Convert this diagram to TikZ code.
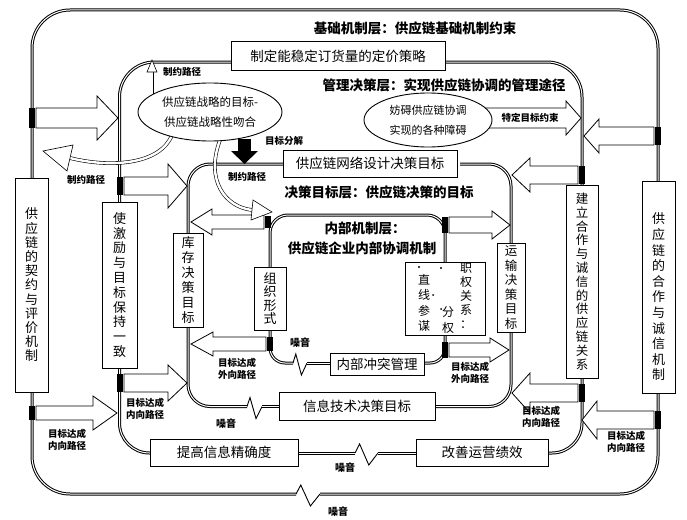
\documentclass[tikz,border=0pt]{standalone}
\usepackage{fontspec}
\setmainfont{Noto Sans CJK SC}
\usetikzlibrary{shapes.geometric}
\newcommand{\blockarr}[6]{\draw[barrow] (#1,{#4-#5}) -- (#2,{#4-#5}) -- (#2,{#4-#6}) -- (#3,#4) -- (#2,{#4+#6}) -- (#2,{#4+#5}) -- (#1,{#4+#5}) -- cycle;}
\newcommand{\junc}[3]{\fill[black] ({#1-3},{#2-#3}) rectangle ({#1+3},{#2+#3});}
\newcommand{\zz}[3]{\draw[zig] (#1,#3) -- ({#1+0.2*(#2-#1)},{#3-9}) -- ({#1+0.6*(#2-#1)},{#3+12}) -- (#2,#3);}
\begin{document}
\begin{tikzpicture}[x=1pt,y=-1pt,
 frame/.style={draw=black, line width=1pt, double=white, double distance=1pt},
 zig/.style={draw=black, line width=0.9pt, line join=miter},
 box/.style={draw=black, line width=1pt, fill=white, inner sep=0pt, align=center},
 ttl/.style={font=\fontsize{13.5}{15}\selectfont\bfseries, inner sep=0pt},
 btxt/.style={font=\fontsize{13.5}{15}\selectfont},
 lab/.style={font=\fontsize{9.5}{11.5}\selectfont\bfseries, align=center, inner sep=0pt},
 noise/.style={font=\fontsize{10}{11}\selectfont\bfseries, inner sep=0pt},
 barrow/.style={draw=black, line width=0.8pt, fill=white, line join=miter},
 hollow/.style={draw=black, line width=0.6pt, double=white, double distance=2.4pt},
]
\useasboundingbox (0,0) rectangle (687,519);
\fill[white] (0,0) rectangle (687,519);

% ---- layer 1 frame
\draw[frame, rounded corners=38] (32,178) -- (32,10) -- (658,10) -- (658,181);
\draw[frame, rounded corners=38] (32,392) -- (32,494) -- (296,494);
\zz{296}{320}{494}
\draw[frame, rounded corners=38] (320,494) -- (658,494) -- (658,393);
% ---- layer 2 frame
\draw[frame, rounded corners=35] (231,62) -- (119.5,62) -- (119.5,202);
\draw[frame, rounded corners=30] (119.5,368) -- (119.5,453) -- (150,453);
\draw[frame] (298,453) -- (355,453);
\zz{355}{378}{453}
\draw[frame] (378,453) -- (416,453);
\draw[frame, rounded corners=30] (548,453) -- (582,453) -- (582,378);
\draw[frame, rounded corners=35] (582,185) -- (582,62) -- (444,62);
% ---- layer 3 frame
\draw[frame, rounded corners=22] (285,164) -- (188,164) -- (188,233);
\draw[frame, rounded corners=22] (188,327) -- (188,406.5) -- (247,406.5);
\zz{247}{262}{406.5}
\draw[frame] (262,406.5) -- (280,406.5);
\draw[frame, rounded corners=22] (434,406.5) -- (511,406.5) -- (511,332);
\draw[frame, rounded corners=22] (511,243) -- (511,164) -- (460,164);
% ---- layer 4 frame
\draw[frame, rounded corners=18] (270,267) -- (270,215) -- (445,215) -- (445,262);
\draw[frame, rounded corners=15] (270,330) -- (270,363) -- (293,363);
\zz{293}{307}{363}
\draw[frame] (307,363) -- (332,363);
\draw[frame, rounded corners=15] (424,363) -- (445,363) -- (445,335);

% ---- block arrows with junctions
\junc{32}{118}{10} \blockarr{36}{97}{118}{118}{10}{22}
\junc{658}{136}{9} \blockarr{654}{599}{584}{136}{9}{17}
\blockarr{480}{566}{581}{118}{10}{17}
\junc{119.5}{186}{9} \blockarr{124}{168}{187}{186}{9}{22}
\junc{582}{175}{9} \blockarr{578}{530}{512}{175}{9}{17}
\junc{268}{222}{6} \blockarr{264}{212}{191}{222}{7}{13}
\junc{445}{225}{8} \blockarr{449}{492}{510}{225}{8}{14}
\junc{270}{344}{7} \blockarr{266}{213}{191}{344}{7}{12}
\junc{445}{350}{8} \blockarr{449}{490}{509}{350}{7}{12}
\junc{119.5}{383}{9} \blockarr{124}{168}{187}{383}{9}{18}
\junc{582}{393}{9} \blockarr{578}{530}{512}{393}{9}{20}
\junc{32}{413}{7} \blockarr{36}{93}{117}{413}{7}{17}
\junc{658}{420}{9} \blockarr{654}{597}{582}{420}{9}{19}

% ---- black decomposition arrow
\fill[black] (238,139) rectangle (251,151);
\fill[black] (231,151) -- (258,151) -- (244.5,164) -- cycle;

% ---- curved hollow arrows
\draw[hollow] (172,135) .. controls (160,165) and (110,168) .. (70,158);
\draw[barrow, line width=0.6pt] (73,145) -- (43,151) -- (67,171) -- cycle;
\draw[hollow] (220,140) .. controls (205,180) and (225,207) .. (252,210);
\draw[barrow, line width=0.6pt] (253,200) -- (272,212) -- (251,220) -- cycle;
\draw[hollow, double distance=1.8pt] (152,97) -- (152,72);
\draw[barrow, line width=0.6pt] (147,72) -- (152,60) -- (157,72) -- cycle;

% ---- boxes
\node[box, minimum width=214pt, minimum height=28pt, btxt] (price) at (338,56) {制定能稳定订货量的定价策略};
\node[box, minimum width=174pt, minimum height=27pt, btxt] (net) at (370,163.5) {供应链网络设计决策目标};
\node[box, minimum width=33pt, minimum height=214pt, font=\fontsize{13}{14.2}\selectfont] (contract) at (31.5,285) {供\\应\\链\\的\\契\\约\\与\\评\\价\\机\\制};
\node[box, minimum width=35pt, minimum height=166pt, font=\fontsize{13}{14.8}\selectfont] (incent) at (119.5,285) {使\\激\\励\\与\\目\\标\\保\\持\\一\\致};
\node[box, minimum width=30pt, minimum height=94pt, font=\fontsize{13}{15}\selectfont] (inv) at (188,280) {库\\存\\决\\策\\目\\标};
\node[box, minimum width=32pt, minimum height=63pt, font=\fontsize{13}{13.5}\selectfont] (org) at (270,298.5) {组\\织\\形\\式};
\node[box, minimum width=28pt, minimum height=89pt, font=\fontsize{12.5}{14.6}\selectfont] (trans) at (511,287.5) {运\\输\\决\\策\\目\\标};
\node[box, minimum width=32pt, minimum height=193pt, font=\fontsize{12.5}{13.8}\selectfont] (rel) at (582,281.5) {建\\立\\合\\作\\与\\诚\\信\\的\\供\\应\\链\\关\\系};
\node[box, minimum width=33pt, minimum height=212pt] (coop) at (658.5,287) {};
\node[font=\fontsize{13}{15.6}\selectfont, align=center, inner sep=0pt] (cooptxt) at (658.5,297) {供\\应\\链\\的\\合\\作\\与\\诚\\信\\机\\制};
\node[box, minimum width=80pt, minimum height=73pt] (auth) at (445,298.5) {};
\node[font=\fontsize{12}{14}\selectfont, align=center, inner sep=0pt] (authr) at (466,296) {职\\权\\关\\系\\：};
\node[font=\fontsize{12}{15.5}\selectfont, align=center, inner sep=0pt] (authl) at (424,303) {直\\线\\参\\谋};
\node[font=\fontsize{12}{15.5}\selectfont, align=center, inner sep=0pt] (authm) at (448,320) {分\\权};
\fill (419,267) circle (1.2pt) (441,268) circle (1.2pt) (433,295) circle (1pt) (441,309) circle (1pt);
\node[box, minimum width=94pt, minimum height=22pt, btxt] (conf) at (377,364) {内部冲突管理};
\node[box, minimum width=156pt, minimum height=28pt, btxt] (it) at (357,406) {信息技术决策目标};
\node[box, minimum width=148pt, minimum height=27pt, btxt] (acc) at (224,452.5) {提高信息精确度};
\node[box, minimum width=132pt, minimum height=27pt, btxt] (perf) at (482,452.5) {改善运营绩效};

% ---- ellipses
\node[draw, ellipse, line width=0.9pt, fill=white, minimum width=144pt, minimum height=58pt, inner sep=0pt, align=center, font=\fontsize{11.5}{20}\selectfont] (e1) at (210,112) {供应链战略的目标-\\供应链战略性吻合};
\node[draw, ellipse, line width=0.9pt, fill=white, minimum width=128pt, minimum height=54pt, inner sep=0pt, align=center, font=\fontsize{11}{20}\selectfont] (e2) at (428,120) {妨碍供应链协调\\实现的各种障碍};
\node[font=\fontsize{9.5}{10}\selectfont\bfseries, inner sep=0pt] (spec) at (530,118) {特定目标约束};

% ---- titles
\node[ttl] (t1) at (415,28) {基础机制层：供应链基础机制约束};
\node[ttl] (t2) at (444,85) {管理决策层：实现供应链协调的管理途径};
\node[ttl] (t3) at (379,192) {决策目标层：供应链决策的目标};
\node[ttl] (t4a) at (365,228) {内部机制层：};
\node[ttl] (t4b) at (362,248) {供应链企业内部协调机制};

% ---- labels
\node[lab] (c1) at (182,72) {制约路径};
\node[lab] (c2) at (86,180) {制约路径};
\node[lab] (c3) at (247,177) {制约路径};
\node[lab] (dec) at (284,141) {目标分解};
\node[lab] (o1) at (237,369) {目标达成\\外向路径};
\node[lab] (o2) at (470,373) {目标达成\\外向路径};
\node[lab] (i1) at (145,409) {目标达成\\内向路径};
\node[lab] (i2) at (541,417) {目标达成\\内向路径};
\node[lab] (i3) at (67,440) {目标达成\\内向路径};
\node[lab] (i4) at (626,442) {目标达成\\内向路径};
\node[noise] (n1) at (300,343) {噪音};
\node[noise] (n2) at (226,424) {噪音};
\node[noise] (n3) at (345,468) {噪音};
\node[noise] (n4) at (338,512) {噪音};
\end{tikzpicture}
\end{document}
